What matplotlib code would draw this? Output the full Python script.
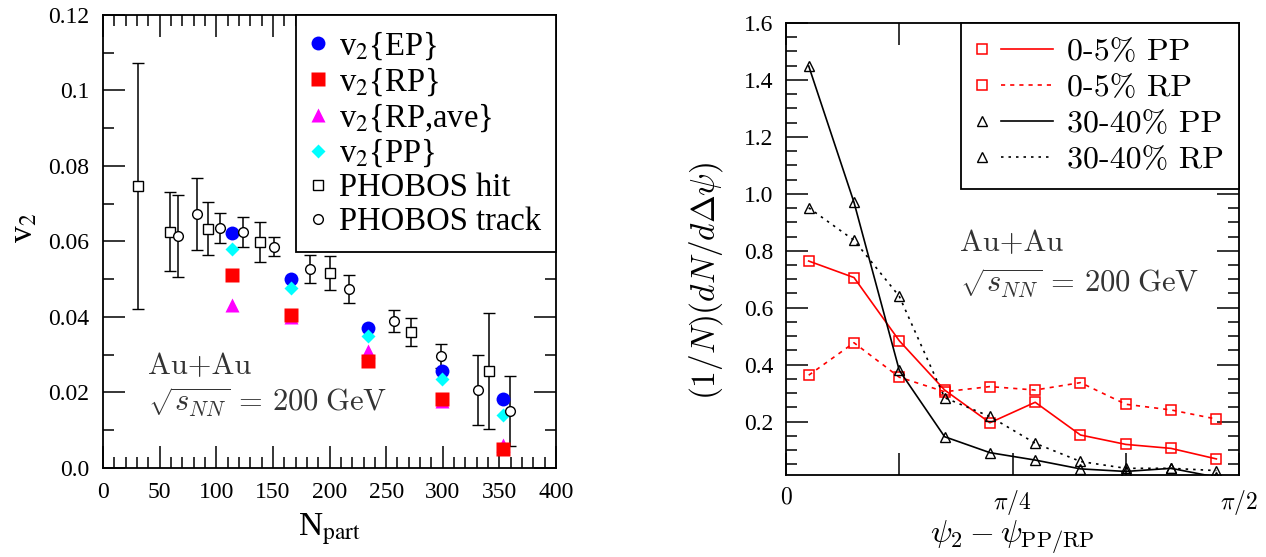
import numpy as np
import matplotlib
matplotlib.use("Agg")
import matplotlib.pyplot as plt
from matplotlib.lines import Line2D
from matplotlib.legend_handler import HandlerBase
from matplotlib.font_manager import FontProperties

plt.rcParams['font.family'] = 'Liberation Serif'
plt.rcParams['mathtext.fontset'] = 'stix'

# ---- left panel: v2 vs Npart ----
npart = [114, 166, 234, 299, 353]
v2_ep = [0.0623, 0.0500, 0.0371, 0.0257, 0.0182]
v2_rp = [0.0511, 0.0405, 0.0284, 0.0182, 0.0051]
v2_rp_ave = [0.0433, 0.0400, 0.0311, 0.0177, 0.0062]
v2_pp = [0.0581, 0.0477, 0.0349, 0.0236, 0.0141]

hit_npart = [31, 59, 93, 139, 200, 272, 341]
hit_v2 = [0.0747, 0.0626, 0.0634, 0.0599, 0.0516, 0.0359, 0.0257]
hit_err = [0.0326, 0.0105, 0.0070, 0.0053, 0.0045, 0.0037, 0.0153]

track_npart = [66, 83, 103, 124, 151, 183, 217, 257, 298, 331, 359]
track_v2 = [0.0615, 0.0672, 0.0636, 0.0626, 0.0586, 0.0527, 0.0475, 0.0390, 0.0296, 0.0207, 0.0152]
track_err = [0.0109, 0.0095, 0.0040, 0.0040, 0.0025, 0.0036, 0.0037, 0.0029, 0.0032, 0.0093, 0.0093]

v2_ticks = [0.0, 0.02, 0.04, 0.06, 0.08, 0.10, 0.12]
v2_ticklabels = ['0.0', '0.02', '0.04', '0.06', '0.08', '0.1', '0.12']

# ---- right panel: distributions of psi2 - psi_PP/RP ----
bin_index = np.arange(10)
c05_pp = [0.764, 0.706, 0.484, 0.311, 0.196, 0.268, 0.153, 0.120, 0.106, 0.069]
c05_rp = [0.363, 0.477, 0.356, 0.305, 0.323, 0.311, 0.337, 0.261, 0.241, 0.209]
c3040_pp = [1.449, 0.970, 0.380, 0.147, 0.091, 0.065, 0.034, 0.025, 0.036, 0.005]
c3040_rp = [0.951, 0.837, 0.640, 0.284, 0.218, 0.124, 0.060, 0.036, 0.036, 0.028]

psi = (bin_index + 0.5) * np.pi / 20

fig = plt.figure(figsize=(12.66, 5.57), dpi=100)
ax1 = fig.add_axes([0.0814, 0.1598, 0.3578, 0.8133])
ax2 = fig.add_axes([0.6209, 0.1472, 0.3578, 0.8115])

tick_kw = dict(direction='in', top=True, right=True, width=1.1, labelsize=17)
energy = r'$\sqrt{s_{NN}}\,=\,200\;\mathrm{GeV}$'

# left panel
eb_kw = dict(color='black', ecolor='black', elinewidth=1.1, capsize=4, capthick=1.1,
             mfc='white', mec='black', mew=1.0, ms=7, ls='none')
h_hit = ax1.errorbar(hit_npart, hit_v2, yerr=hit_err, fmt='s', **eb_kw)
h_track = ax1.errorbar(track_npart, track_v2, yerr=track_err, fmt='o', **eb_kw)
h_ep = ax1.plot(npart, v2_ep, 'o', color='#0000ff', ms=10, mec='none')[0]
h_ave = ax1.plot(npart, v2_rp_ave, '^', color='#ff00ff', ms=10, mec='none')[0]
h_rp = ax1.plot(npart, v2_rp, 's', color='#ff0000', ms=9.5, mec='none')[0]
h_pp = ax1.plot(npart, v2_pp, 'D', color='#00ffff', ms=7.5, mec='none')[0]

ax1.set_xlim(0, 400)
ax1.set_ylim(0, 0.12)
ax1.set_xticks(np.arange(0, 401, 50))
ax1.set_xticks(np.arange(0, 401, 10), minor=True)
ax1.set_yticks(v2_ticks)
ax1.set_yticklabels(v2_ticklabels)
ax1.set_yticks(np.arange(0, 0.121, 0.01), minor=True)
ax1.tick_params(which='major', length=16, pad=10, **tick_kw)
ax1.tick_params(which='minor', length=8, direction='in', top=True, right=True, width=1.1)
for s in ax1.spines.values():
    s.set_linewidth(1.3)

ax1.set_xlabel(r'N$_{\rm part}$', fontsize=24, labelpad=6)
ax1.set_ylabel(r'v$_2$', fontsize=24)
ax1.yaxis.set_label_coords(-0.14, 0.53)

leg1 = ax1.legend([h_ep, h_rp, h_ave, h_pp, h_hit[0], h_track[0]],
                  [r'v$_2${EP}', r'v$_2${RP}', r'v$_2${RP,ave}', r'v$_2${PP}', 'PHOBOS hit', 'PHOBOS track'],
                  loc='upper right', bbox_to_anchor=(1.0, 1.0), borderaxespad=0, fontsize=23.5,
                  numpoints=1, handlelength=0.39, handletextpad=0.47, labelspacing=0.1,
                  borderpad=0.45, fancybox=False, framealpha=1, edgecolor='black')
leg1.get_frame().set_linewidth(1.3)

ax1.text(0.10, 0.2075, 'Au+Au', transform=ax1.transAxes, fontsize=22,
         family='cmr10', color='#333333')
ax1.text(0.10, 0.124, energy, transform=ax1.transAxes,
         fontsize=22, color='#333333', math_fontfamily='cm')

# right panel
ax2.plot(psi, c05_pp, color='#ff0000', lw=1.2, marker='s', ms=7, mfc='none', mec='#ff0000', mew=1.1)
ax2.plot(psi, c05_rp, color='#ff0000', lw=1.2, ls=(0, (2.5, 3)), marker='s', ms=7, mfc='none', mec='#ff0000', mew=1.1)
ax2.plot(psi, c3040_pp, color='black', lw=1.2, marker='^', ms=6.5, mfc='none', mec='black', mew=1.0)
ax2.plot(psi, c3040_rp, color='black', lw=1.2, ls=(0, (1.5, 3)), marker='^', ms=6.5, mfc='none', mec='black', mew=1.0)

ax2.set_xlim(0, np.pi / 2)
ax2.set_ylim(0.0125, 1.6)
ax2.set_xticks(np.arange(5) * np.pi / 8)
ax2.set_xticklabels(['$0$', '', r'$\pi/4$', '', r'$\pi/2$'], math_fontfamily='cm', fontsize=19)
ax2.set_yticks(np.arange(0.2, 1.61, 0.2))
ax2.set_yticklabels(['%.1f' % v for v in np.arange(0.2, 1.61, 0.2)])
ax2.set_yticks(np.arange(0.05, 1.61, 0.05), minor=True)
ax2.tick_params(which='major', length=16, pad=9, **tick_kw)
ax2.tick_params(which='minor', length=8, direction='in', top=True, right=True, width=1.1)
for s in ax2.spines.values():
    s.set_linewidth(1.3)

ax2.set_xlabel(r'$\psi_2-\psi_{\rm PP/RP}$', fontsize=23, math_fontfamily='cm', labelpad=1)
ax2.set_ylabel(r'$(1/N)(dN/d\Delta\psi)$', fontsize=24, math_fontfamily='cm')
ax2.yaxis.set_label_coords(-0.135, 0.43)


class MarkerThenLine(HandlerBase):
    # legend entry: open marker on the left, then a short piece of the line
    def create_artists(self, legend, orig_handle, xdescent, ydescent, width, height, fontsize, trans):
        y = height / 2 - ydescent
        x0 = -xdescent
        mk = Line2D([x0 + 0.09 * width], [y], ls='none', marker=orig_handle.get_marker(),
                    ms=orig_handle.get_markersize(), mfc='none', mec=orig_handle.get_color(),
                    mew=orig_handle.get_markeredgewidth(), transform=trans)
        ln = Line2D([x0 + 0.33 * width, x0 + width], [y, y])
        ln.update_from(orig_handle)
        ln.set_marker('None')
        ln.set_transform(trans)
        return [mk, ln]


leg2 = ax2.legend(ax2.get_lines(), ['0-5% PP', '0-5% RP', '30-40% PP', '30-40% RP'],
                  handler_map={Line2D: MarkerThenLine()},
                  loc='upper right', bbox_to_anchor=(1.0, 1.0), borderaxespad=0,
                  prop=FontProperties(family='cmr10', size=23),
                  handlelength=2.44, handletextpad=0.44, labelspacing=0.24, borderpad=0.46,
                  fancybox=False, framealpha=1, edgecolor='black')
leg2.get_frame().set_linewidth(1.3)

ax2.text(0.384, 0.496, 'Au+Au', transform=ax2.transAxes, fontsize=22,
         family='cmr10', color='#333333')
ax2.text(0.384, 0.403, energy, transform=ax2.transAxes,
         fontsize=22, color='#333333', math_fontfamily='cm')

fig.savefig('out.png', dpi=100)
